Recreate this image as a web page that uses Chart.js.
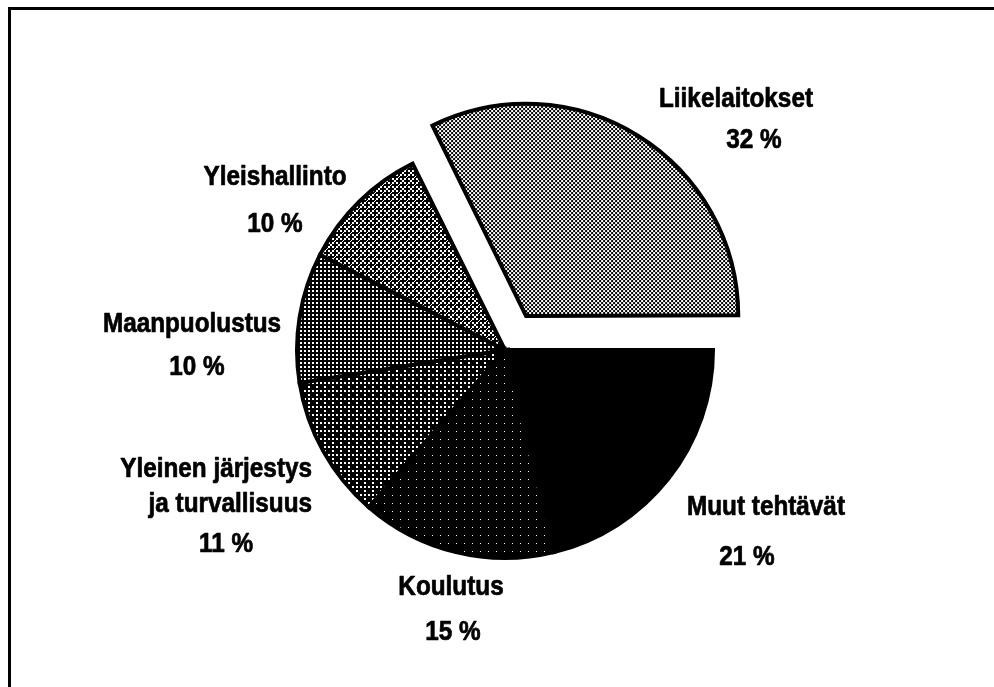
<!DOCTYPE html>
<html>
<head>
<meta charset="utf-8">
<script src="https://cdn.jsdelivr.net/npm/chart.js@4"></script>
<style>
html, body { margin: 0; padding: 0; background: #fff; }
#kehys { width: 994px; height: 687px; }
</style>
</head>
<body>
<div id="kehys"><canvas id="grafiikka" width="994" height="687"></canvas></div>
<script>
// myötäpäivään idästä alkaen
const luokat = ['Muut tehtävät', 'Koulutus', 'Yleinen järjestys\nja turvallisuus', 'Maanpuolustus', 'Yleishallinto', 'Liikelaitokset'];
const osuudet = [21, 15, 11, 10, 10, 32];
const irrotus = [0, 0, 0, 0, 0, 160];

// rasterin tummuus (0-16)
const tummuus = [16, 15.75, 13, 12, 10.5, 8];

// tekstirivien paikat suhteessa ympyrän keskipisteeseen
const tekstipaikat = [
    [[261, 165, 'center'], [242, 215, 'center']],
    [[-54, 245, 'center'], [-52, 290, 'center']],
    [[-193, 127, 'right'], [-193, 162, 'right'], [-279, 202, 'center']],
    [[-313, -18, 'center'], [-308, 25, 'center']],
    [[-230, -165, 'center'], [-230, -118, 'center']],
    [[231, -243, 'center'], [249, -202, 'center']]
];

const bayer = [[0, 8, 2, 10], [12, 4, 14, 6], [3, 11, 1, 9], [15, 7, 13, 5]];
// solun pikselit täyttöjärjestyksessä
const solu = [[0, 0], [1, 1], [1, 0], [0, 1]];

const rasteri = (taso) => {
    const c = document.createElement('canvas');
    c.width = 8;
    c.height = 8;
    const g = c.getContext('2d');
    g.fillStyle = '#fff';
    g.fillRect(0, 0, 8, 8);
    g.fillStyle = '#000';
    for (let y = 0; y < 4; y++) {
        for (let x = 0; x < 4; x++) {
            const peitto = Math.max(0, Math.min(1, taso - bayer[y][x]));
            const mustat = Math.round(peitto * 4);
            for (let k = 0; k < mustat; k++) {
                g.fillRect(x * 2 + solu[k][0], y * 2 + solu[k][1], 1, 1);
            }
        }
    }
    return g.createPattern(c, 'repeat');
};

const kehysViivat = {
    id: 'kehysViivat',
    beforeDraw(chart) {
        const ctx = chart.ctx;
        ctx.save();
        ctx.strokeStyle = '#000';
        ctx.lineWidth = 3;
        ctx.beginPath();
        ctx.moveTo(9.5, chart.height);
        ctx.lineTo(9.5, 8.5);
        ctx.lineTo(chart.width, 8.5);
        ctx.stroke();
        ctx.restore();
    }
};

const tekstit = {
    id: 'tekstit',
    afterDraw(chart) {
        const ctx = chart.ctx;
        const meta = chart.getDatasetMeta(0);
        const kx = meta.data[0].x;
        const ky = meta.data[0].y;
        ctx.save();
        ctx.fillStyle = '#000';
        ctx.strokeStyle = '#000';
        ctx.lineWidth = 0.7;
        ctx.lineJoin = 'round';
        ctx.font = 'bold 27px "Liberation Sans", Arial, sans-serif';
        ctx.textBaseline = 'alphabetic';
        luokat.forEach((nimi, i) => {
            const rivit = nimi.split('\n').concat(osuudet[i] + ' %');
            rivit.forEach((rivi, j) => {
                const [dx, dy, tasaus] = tekstipaikat[i][j];
                ctx.save();
                ctx.translate(kx + dx, ky + dy);
                ctx.scale(0.9, 1);
                ctx.textAlign = tasaus;
                ctx.fillText(rivi, 0, 0);
                ctx.strokeText(rivi, 0, 0);
                ctx.restore();
            });
        });
        ctx.restore();
    }
};

new Chart(document.getElementById('grafiikka'), {
    type: 'pie',
    data: {
        labels: luokat,
        datasets: [{
            data: osuudet,
            backgroundColor: tummuus.map(rasteri),
            borderColor: '#000',
            borderWidth: 4,
            borderJoinStyle: 'miter',
            offset: irrotus
        }]
    },
    options: {
        responsive: false,
        animation: false,
        rotation: 90,
        radius: 208,
        layout: { padding: { left: 16, top: 13, right: 0, bottom: 0 } },
        plugins: {
            legend: { display: false },
            tooltip: { enabled: false }
        }
    },
    plugins: [kehysViivat, tekstit]
});
</script>
</body>
</html>
